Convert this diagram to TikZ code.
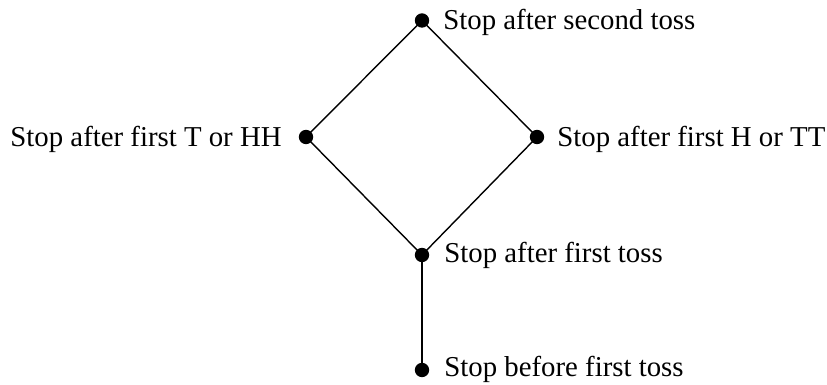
\documentclass[tikz,border=0pt]{standalone}
\usepackage{fontspec}
\setmainfont{Liberation Serif}
\begin{document}
\begin{tikzpicture}[x=0.5pt,y=-0.5pt,
  dot/.style={circle,fill=black,inner sep=0pt,minimum size=7.2pt},
  lbl/.style={inner sep=0pt,font=\fontsize{14.4}{17}\selectfont},
  edge/.style={line width=0.7pt}]
\useasboundingbox (0,0) rectangle (827,385);
\node[dot] (top) at (422,20.5) {};
\node[dot] (left) at (306,137) {};
\node[dot] (right) at (537,137) {};
\node[dot] (mid) at (422,255) {};
\node[dot] (bot) at (422,370) {};
\draw[edge] (top.center) -- (left.center) -- (mid.center) -- (right.center) -- (top.center);
\draw[edge] (mid.center) -- (bot.center);
\node[lbl,anchor=mid west] (ltop) at ([xshift=10.5pt,yshift=-2pt]top.center) {Stop after second toss};
\node[lbl,anchor=mid east] (lleft) at ([xshift=-12pt,yshift=-2.5pt]left.center) {Stop after first T or HH};
\node[lbl,anchor=mid west] (lright) at ([xshift=10pt,yshift=-2.5pt]right.center) {Stop after first H or TT};
\node[lbl,anchor=mid west] (lmid) at ([xshift=11pt,yshift=-1.5pt]mid.center) {Stop after first toss};
\node[lbl,anchor=mid west] (lbot) at ([xshift=11pt,yshift=-1pt]bot.center) {Stop before first toss};
\end{tikzpicture}
\end{document}
